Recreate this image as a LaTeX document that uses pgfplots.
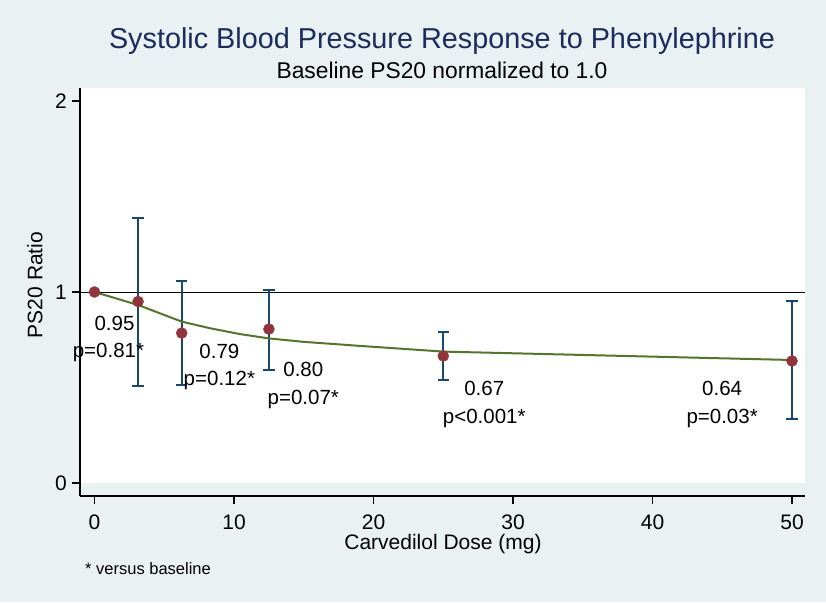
\documentclass[border=0pt]{standalone}
\usepackage{fontspec}
\setmainfont{Liberation Sans}
\usepackage{pgfplots}
\usepackage{pgfplotstable}
\pgfplotsset{compat=1.18}
\definecolor{bgc}{RGB}{233,241,243}
\definecolor{stnavy}{RGB}{26,71,111}
\definecolor{stmaroon}{RGB}{144,53,59}
\definecolor{stgreen}{RGB}{85,117,47}
\definecolor{ttl}{RGB}{28,44,92}

% point estimate and distance to upper / lower CI limit
\pgfplotstableread{
x     y     ep    em
3.125 0.95  0.440 0.440
6.25  0.785 0.273 0.272
12.5  0.806 0.204 0.214
25    0.665 0.126 0.126
50    0.639 0.314 0.304
}\cidata

% CI limits (caps)
\pgfplotstableread{
x     y
3.125 1.390
3.125 0.510
6.25  1.058
6.25  0.513
12.5  1.010
12.5  0.592
25    0.791
25    0.539
50    0.953
50    0.335
}\capdata

\pgfplotstableread{
x     y
0     1.0
3.125 0.95
6.25  0.785
12.5  0.806
25    0.665
50    0.639
}\pointdata

\pgfplotstableread{
x     y
0     1.000
3.125 0.932
6.25  0.845
8.3   0.810
10.4  0.780
12.5  0.757
15    0.739
19    0.718
25    0.688
37.5  0.666
50    0.644
}\fitdata

\begin{document}
\begin{tikzpicture}
\fill[bgc] (-80pt,-106pt) rectangle (746pt,496pt);
\useasboundingbox (-80pt,-106pt) rectangle (746pt,496pt);
\begin{axis}[
  at={(0pt,0pt)}, anchor=south west,
  width=725pt, height=408pt, scale only axis,
  xmin=-1.04, xmax=50.93, ymin=-0.068, ymax=2.068,
  axis lines*=left,
  axis line style={black, line width=1.2pt},
  tick align=outside, major tick length=8pt,
  tick style={black, line width=1.2pt},
  xtick={0,10,20,30,40,50}, ytick={0,1,2},
  /pgf/number format/assume math mode=true,
  ticklabel style={font=\fontsize{21}{25}\selectfont, inner sep=0pt},
  xticklabel style={anchor=base, yshift=-25.5pt},
  yticklabel style={anchor=east, xshift=-5pt},
  clip=false,
]
\fill[white] (axis cs:-0.97,0) rectangle (axis cs:50.93,2.068);
\addplot[black, line width=0.9pt] coordinates {(-0.97,1) (50.93,1)};
\addplot[draw=none, forget plot,
  error bars/.cd, y dir=both, y explicit, error mark=none,
  error bar style={draw=stnavy, line width=2pt}]
  table[x=x, y=y, y error plus=ep, y error minus=em] {\cidata};
\addplot[draw=none, forget plot,
  error bars/.cd, x dir=both, x fixed=0.41, error mark=none,
  error bar style={draw=stnavy, line width=2pt}]
  table[x=x, y=y] {\capdata};
\addplot[only marks, mark=*, mark size=5.5pt, stmaroon,
  mark options={fill=stmaroon, draw=stmaroon}] table[x=x, y=y] {\pointdata};
\addplot[stgreen, line width=2pt, mark=none] table[x=x, y=y] {\fitdata};
\begin{scope}[every node/.style={font=\fontsize{20.5}{24}\selectfont, anchor=base, inner sep=0pt}]
\node at (axis cs:1.43,0.798) {0.95};
\node at (axis cs:1.0,0.657) {p=0.81*};
\node at (axis cs:8.95,0.652) {0.79};
\node at (axis cs:8.95,0.510) {p=0.12*};
\node at (axis cs:14.97,0.557) {0.80};
\node at (axis cs:14.97,0.411) {p=0.07*};
\node at (axis cs:27.94,0.458) {0.67};
\node at (axis cs:27.94,0.309) {p<0.001*};
\node at (axis cs:44.99,0.458) {0.64};
\node at (axis cs:44.99,0.309) {p=0.03*};
\end{scope}
\end{axis}
\node[anchor=base, text=ttl, font=\fontsize{28.8}{34}\selectfont, inner sep=0pt] at (362pt,447pt) {Systolic Blood Pressure Response to Phenylephrine};
\node[anchor=base, font=\fontsize{22.8}{27}\selectfont, inner sep=0pt] at (362pt,417pt) {Baseline PS20 normalized to 1.0};
\node[anchor=base, font=\fontsize{21}{25}\selectfont, inner sep=0pt] at (363pt,-53pt) {Carvedilol Dose (mg)};
\node[anchor=base, rotate=90, font=\fontsize{21}{25}\selectfont, inner sep=0pt] at (-37.5pt,211pt) {PS20 Ratio};
\node[anchor=base west, font=\fontsize{16.5}{20}\selectfont, inner sep=0pt] at (5pt,-78pt) {* versus baseline};
\end{tikzpicture}
\end{document}
